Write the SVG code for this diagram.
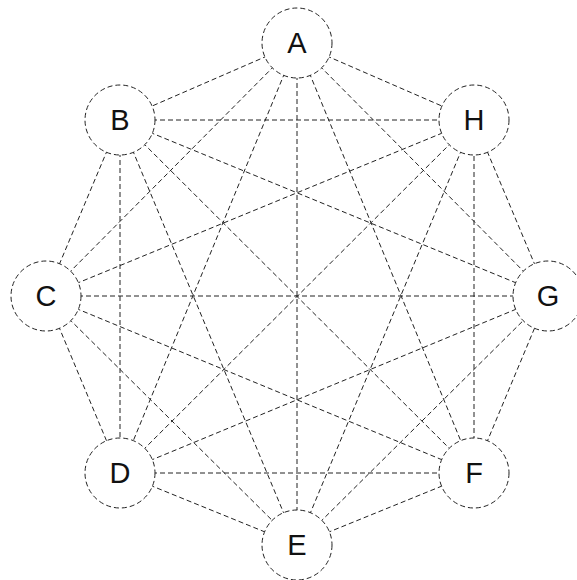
<svg xmlns="http://www.w3.org/2000/svg" width="577" height="580" viewBox="0 0 577 580">
<style>
.e{stroke:#222;stroke-width:1;stroke-dasharray:5,3;fill:none}
.n circle{fill:#fff;stroke:#222;stroke-width:1;stroke-dasharray:5,3}
.n text{font-family:"Liberation Sans",Arial,sans-serif;font-size:29px;fill:#111;text-anchor:middle;dominant-baseline:central}
</style>
<rect width="577" height="580" fill="#fff"/>
<g id="edges">
<line class="e" x1="297" y1="43" x2="120" y2="120"/>
<line class="e" x1="297" y1="43" x2="46" y2="296"/>
<line class="e" x1="297" y1="43" x2="120" y2="473"/>
<line class="e" x1="297" y1="43" x2="297" y2="545"/>
<line class="e" x1="297" y1="43" x2="474" y2="473"/>
<line class="e" x1="297" y1="43" x2="548" y2="296"/>
<line class="e" x1="297" y1="43" x2="474" y2="120"/>
<line class="e" x1="120" y1="120" x2="46" y2="296"/>
<line class="e" x1="120" y1="120" x2="120" y2="473"/>
<line class="e" x1="120" y1="120" x2="297" y2="545"/>
<line class="e" x1="120" y1="120" x2="474" y2="473"/>
<line class="e" x1="120" y1="120" x2="548" y2="296"/>
<line class="e" x1="120" y1="120" x2="474" y2="120"/>
<line class="e" x1="46" y1="296" x2="120" y2="473"/>
<line class="e" x1="46" y1="296" x2="297" y2="545"/>
<line class="e" x1="46" y1="296" x2="474" y2="473"/>
<line class="e" x1="46" y1="296" x2="548" y2="296"/>
<line class="e" x1="46" y1="296" x2="474" y2="120"/>
<line class="e" x1="120" y1="473" x2="297" y2="545"/>
<line class="e" x1="120" y1="473" x2="474" y2="473"/>
<line class="e" x1="120" y1="473" x2="548" y2="296"/>
<line class="e" x1="120" y1="473" x2="474" y2="120"/>
<line class="e" x1="297" y1="545" x2="474" y2="473"/>
<line class="e" x1="297" y1="545" x2="548" y2="296"/>
<line class="e" x1="297" y1="545" x2="474" y2="120"/>
<line class="e" x1="474" y1="473" x2="548" y2="296"/>
<line class="e" x1="474" y1="473" x2="474" y2="120"/>
<line class="e" x1="548" y1="296" x2="474" y2="120"/>
</g>
<g id="A" class="n"><circle cx="297" cy="43" r="35"/><text x="297" y="43">A</text></g>
<g id="B" class="n"><circle cx="120" cy="120" r="35"/><text x="120" y="120">B</text></g>
<g id="C" class="n"><circle cx="46" cy="296" r="35"/><text x="46" y="296">C</text></g>
<g id="D" class="n"><circle cx="120" cy="473" r="35"/><text x="120" y="473">D</text></g>
<g id="E" class="n"><circle cx="297" cy="545" r="35"/><text x="297" y="545">E</text></g>
<g id="F" class="n"><circle cx="474" cy="473" r="35"/><text x="474" y="473">F</text></g>
<g id="G" class="n"><circle cx="548" cy="296" r="35"/><text x="548" y="296">G</text></g>
<g id="H" class="n"><circle cx="474" cy="120" r="35"/><text x="474" y="120">H</text></g>
</svg>
